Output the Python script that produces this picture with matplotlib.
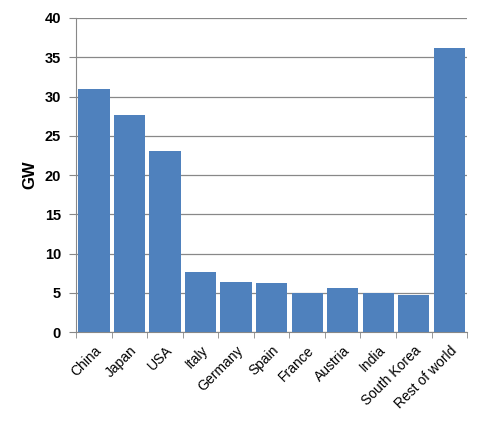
import matplotlib
matplotlib.use('Agg')
from matplotlib import pyplot as plt
import numpy as np

countries = ['China', 'Japan', 'USA', 'Italy', 'Germany', 'Spain', 'France',
             'Austria', 'India', 'South Korea', 'Rest of world']
capacity_gw = [30.9, 27.7, 23.0, 7.7, 6.4, 6.2, 5.0, 5.65, 4.95, 4.75, 36.2]
y_ticks = [0, 5, 10, 15, 20, 25, 30, 35, 40]

plt.rcParams['font.family'] = ['Liberation Sans', 'DejaVu Sans']

fig = plt.figure(figsize=(4.82, 4.28), dpi=100)
ax = fig.add_axes([0.158, 0.224, 0.811, 0.734])

x = np.arange(len(countries))
ax.bar(x, capacity_gw, width=0.88, color='#4F81BD', zorder=3)

ax.set_xlim(-0.5, len(countries) - 0.5)
ax.set_ylim(0, 40)
ax.set_yticks(y_ticks)
ax.set_yticklabels([str(v) for v in y_ticks], fontsize=10.5, fontweight='bold')
ax.yaxis.grid(True, color='#888888', linewidth=0.9, zorder=0)

ax.set_xticks(x)
ax.set_xticklabels(countries, rotation=45, ha='right', rotation_mode='anchor',
                   fontsize=10)
ax.set_xticks(np.arange(-0.5, len(countries)), minor=True)
ax.tick_params(axis='x', which='major', length=0, pad=8)
ax.tick_params(axis='x', which='minor', length=4, color='#888888')
ax.tick_params(axis='y', length=5, color='#888888', pad=6)

ax.set_ylabel('GW', fontsize=12, fontweight='bold', labelpad=5)

for side in ['top', 'right']:
    ax.spines[side].set_visible(False)
for side in ['left', 'bottom']:
    ax.spines[side].set_color('#888888')

plt.savefig('out.png', dpi=100)
